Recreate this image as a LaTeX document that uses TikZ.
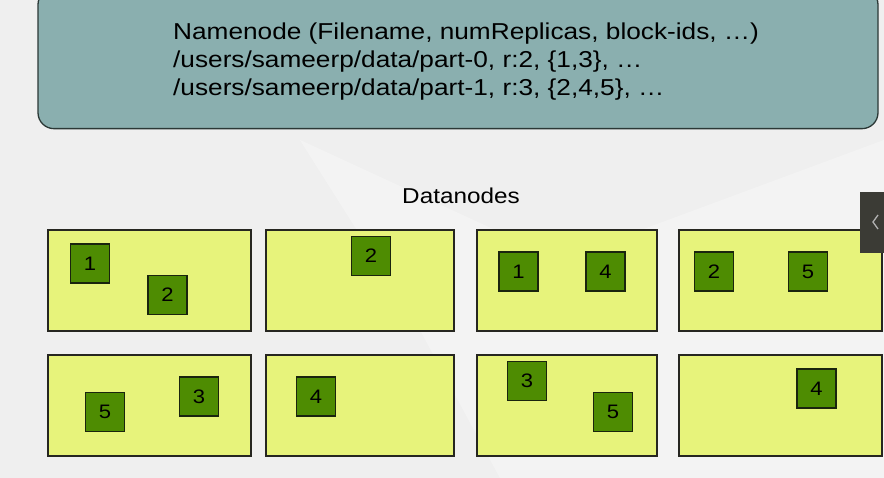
\documentclass[tikz,border=0pt]{standalone}
\usepackage{fontspec}
\usepackage{graphicx}
\setmainfont{Liberation Sans}
\newcommand{\hsq}[2]{\scalebox{#1}[1]{#2}}
\definecolor{bgc}{HTML}{EFEFEF}
\definecolor{nnfill}{HTML}{8AAFAF}
\definecolor{nnline}{HTML}{2B3836}
\definecolor{dnfill}{HTML}{E7F37B}
\definecolor{dnline}{HTML}{262620}
\definecolor{blkfill}{HTML}{4E8C02}
\definecolor{blkline}{HTML}{1A240E}
\definecolor{tabc}{HTML}{3B3B35}
\tikzset{
  nnbox/.style={draw=nnline, line width=1.3pt, fill=nnfill, rounded corners=16pt, inner sep=0pt},
  dnbox/.style={draw=dnline, line width=1.8pt, fill=dnfill, inner sep=0pt, minimum height=101pt},
  blk/.style={draw=blkline, line width=1.3pt, fill=blkfill, minimum width=39pt, minimum height=39pt, inner sep=0pt,
    font=\fontsize{19.5}{19.5}\selectfont, text=black},
  nntext/.style={anchor=base west, inner sep=0pt, font=\fontsize{23}{28}\selectfont, text=black},
}
\begin{document}
\begin{tikzpicture}[x=1pt,y=-1pt]
\useasboundingbox (0,0) rectangle (884,478);
\fill[bgc] (0,0) rectangle (884,478);
\fill[white,opacity=0.3] (300,140) -- (560,260) -- (884,140) -- (884,478) -- (500,478) -- (420,330) -- cycle;
% namenode
\node[nnbox, minimum width=840pt, minimum height=140pt] (nn) at (458,-12) [anchor=north] {};
\node[nntext] (nl1) at (173,39.5) {\hsq{1.14}{Namenode (Filename, numReplicas, block-ids, \dots)}};
\node[nntext] (nl2) at (173,68) {\hsq{1.14}{/users/sameerp/data/part-0, r:2, \{1,3\}, \dots}};
\node[nntext] (nl3) at (173,96) {\hsq{1.14}{/users/sameerp/data/part-1, r:3, \{2,4,5\}, \dots}};
% title
\node[anchor=base, inner sep=0pt, font=\fontsize{21.5}{21.5}\selectfont, text=black] (dtitle) at (461,204) {\hsq{1.13}{Datanodes}};
% datanode boxes row 1
\node[dnbox, minimum width=203pt, anchor=north west] (d1) at (47,229) {};
\node[dnbox, minimum width=188pt, anchor=north west] (d2) at (265,229) {};
\node[dnbox, minimum width=180pt, anchor=north west] (d3) at (476,229) {};
\node[dnbox, minimum width=203pt, anchor=north west] (d4) at (678,229) {};
% row 2
\node[dnbox, minimum width=203pt, anchor=north west] (d5) at (47,354) {};
\node[dnbox, minimum width=188pt, anchor=north west] (d6) at (265,354) {};
\node[dnbox, minimum width=180pt, anchor=north west] (d7) at (476,354) {};
\node[dnbox, minimum width=203pt, anchor=north west] (d8) at (678,354) {};
% blocks
\node[blk] (b1a) at (90,263.5) {\hsq{1.13}{1}};
\node[blk] (b1b) at (167.5,295) {\hsq{1.13}{2}};
\node[blk] (b2a) at (371,256) {\hsq{1.13}{2}};
\node[blk] (b3a) at (518.5,271.5) {\hsq{1.13}{1}};
\node[blk] (b3b) at (605.5,271.5) {\hsq{1.13}{4}};
\node[blk] (b4a) at (714,271.5) {\hsq{1.13}{2}};
\node[blk] (b4b) at (808,271.5) {\hsq{1.13}{5}};
\node[blk] (b5a) at (105,412) {\hsq{1.13}{5}};
\node[blk] (b5b) at (199,396.5) {\hsq{1.13}{3}};
\node[blk] (b6a) at (316,396.5) {\hsq{1.13}{4}};
\node[blk] (b7a) at (527,381) {\hsq{1.13}{3}};
\node[blk] (b7b) at (613,412) {\hsq{1.13}{5}};
\node[blk] (b8a) at (816.5,388.5) {\hsq{1.13}{4}};
% side tab
\fill[tabc] (860,192) rectangle (884,253);
\draw[gray!60, line width=1.3pt] (878,215) -- (873,222) -- (878,229);
\end{tikzpicture}
\end{document}
